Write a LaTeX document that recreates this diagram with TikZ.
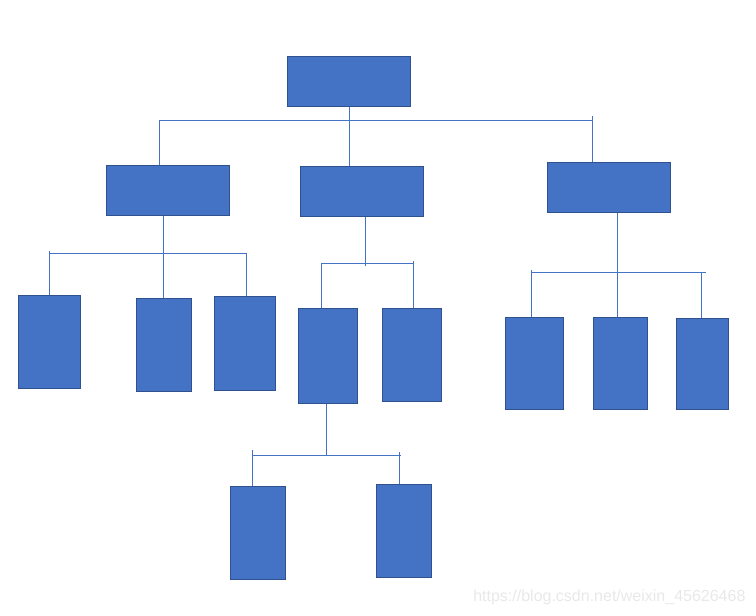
\documentclass[tikz,border=0pt]{standalone}
\usepackage{fontspec}
\newfontfamily\markfont{Liberation Sans}
\usetikzlibrary{calc}
\definecolor{blkfill}{HTML}{4472C4}
\definecolor{blkedge}{HTML}{2F528F}

\begin{document}
\begin{tikzpicture}[
        x=1pt, y=-1pt,
        blk/.style={draw=blkedge, fill=blkfill, line width=1pt, inner sep=0pt,
          anchor=north west},
        link/.style={draw=blkfill, line width=1pt},
        mark text/.style={text=black!9, font=\markfont\fontsize{16}{18}\selectfont}
      ]
      \useasboundingbox (0,0) rectangle (756,616);

      % root and second level
      \node[blk, minimum width=123pt, minimum height=50pt] (top) at (287,56) {};
      \node[blk, minimum width=123pt, minimum height=50pt] (secA) at (106,165) {};
      \node[blk, minimum width=123pt, minimum height=50pt] (secB) at (300,166) {};
      \node[blk, minimum width=123pt, minimum height=50pt] (secC) at (547,162) {};

      % leaves under secA
      \node[blk, minimum width=62pt, minimum height=93pt] (leafA1) at (18,295) {};
      \node[blk, minimum width=55pt, minimum height=93pt] (leafA2) at (136,298) {};
      \node[blk, minimum width=61pt, minimum height=94pt] (leafA3) at (214,296) {};

      % leaves under secB
      \node[blk, minimum width=59pt, minimum height=95pt] (leafB1) at (298,308) {};
      \node[blk, minimum width=59pt, minimum height=93pt] (leafB2) at (382,308) {};

      % leaves under secC
      \node[blk, minimum width=58pt, minimum height=92pt] (leafC1) at (505,317) {};
      \node[blk, minimum width=54pt, minimum height=92pt] (leafC2) at (593,317) {};
      \node[blk, minimum width=52pt, minimum height=91pt] (leafC3) at (676,318) {};

      % third level under leafB1
      \node[blk, minimum width=55pt, minimum height=93pt] (lowL) at (230,486) {};
      \node[blk, minimum width=55pt, minimum height=93pt] (lowR) at (376,484) {};

      % bus ends
      \coordinate (busT1) at (159,120);
      \coordinate (busT2) at (592,120);
      \coordinate (busA1) at (49,253);
      \coordinate (busA2) at (246,253);
      \coordinate (busB1) at (321,263);
      \coordinate (busB2) at (413,263);
      \coordinate (busC1) at (531,272);
      \coordinate (busC2) at (706,272);
      \coordinate (busL1) at (252,455);
      \coordinate (busL2) at (401,455);

      % root to second level
      \draw[link] (top.south) -- (top.south |- secB.north);
      \draw[link] (busT1) -- (busT2);
      \draw[link] (busT1) -- (busT1 |- secA.north);
      \draw[link] ($(busT2)+(0,-4)$) -- (busT2 |- secC.north);

      % secA to leaves
      \draw[link] ($(secA.south west)+(57,0)$) coordinate (dropA) -- (dropA |- leafA2.north);
      \draw[link] (busA1) -- (busA2);
      \draw[link] ($(busA1)+(0,-2)$) -- (busA1 |- leafA1.north);
      \draw[link] (busA2) -- (busA2 |- leafA3.north);

      % secB to leaves
      \draw[link] ($(secB.south west)+(65,0)$) coordinate (dropB) -- ($(dropB |- busB1)+(0,3)$);
      \draw[link] (busB1) -- (busB2);
      \draw[link] (busB1) -- (busB1 |- leafB1.north);
      \draw[link] ($(busB2)+(0,-2)$) -- (busB2 |- leafB2.north);

      % secC to leaves
      \draw[link] ($(secC.south west)+(70,0)$) coordinate (dropC) -- (dropC |- leafC2.north);
      \draw[link] (busC1) -- (busC2);
      \draw[link] ($(busC1)+(0,-2)$) -- (busC1 |- leafC1.north);
      \draw[link] ($(busC2)+(-5,0)$) coordinate (riseC) -- (riseC |- leafC3.north);

      % leafB1 to third level
      \draw[link] ($(leafB1.south west)+(28,0)$) coordinate (dropL) -- (dropL |- busL1);
      \draw[link] (busL1) -- (busL2);
      \draw[link] ($(busL1)+(0,-5)$) -- (busL1 |- lowL.north);
      \draw[link] ($(busL2)+(-2,-3)$) coordinate (riseL) -- (riseL |- lowR.north);

      \node[mark text, anchor=east] (wmark) at (749,597) {https://blog.csdn.net/weixin\_45626468};
    \end{tikzpicture}
\end{document}
